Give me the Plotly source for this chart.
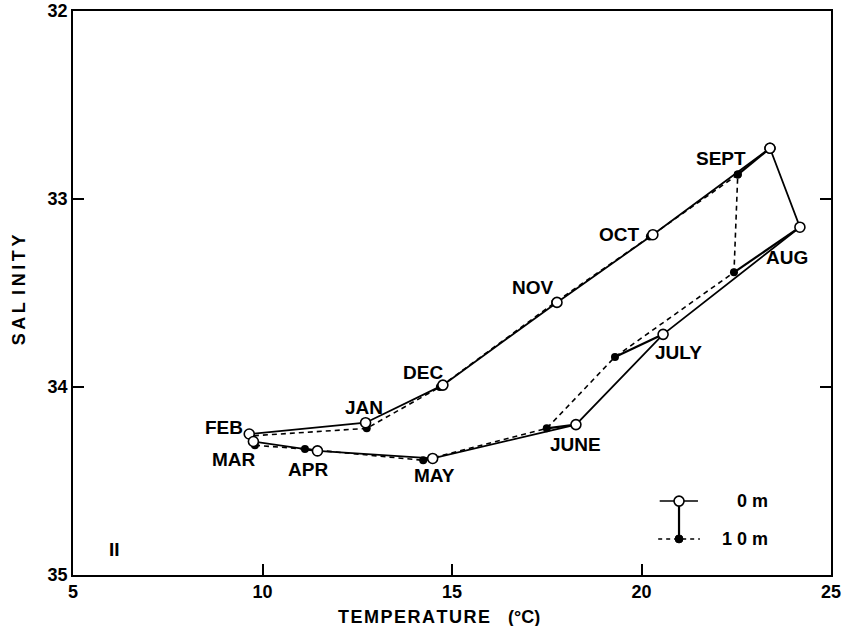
import plotly.graph_objects as go

# ---- data ----
months = ["SEPT", "OCT", "NOV", "DEC", "JAN", "FEB", "MAR", "APR", "MAY", "JUNE", "JULY", "AUG"]
temp_0m = [23.39, 20.30, 17.77, 14.76, 12.72, 9.65, 9.76, 11.45, 14.49, 18.27, 20.57, 24.18]
sal_0m = [32.73, 33.19, 33.55, 33.99, 34.19, 34.25, 34.29, 34.34, 34.38, 34.20, 33.72, 33.15]
temp_10m = [22.54, 20.22, 17.72, 14.68, 12.75, 9.70, 9.80, 11.12, 14.24, 17.50, 19.30, 22.44]
sal_10m = [32.87, 33.20, 33.55, 34.00, 34.22, 34.26, 34.31, 34.33, 34.39, 34.22, 33.84, 33.39]
x_ticks = [5, 10, 15, 20, 25]
y_ticks = [32, 33, 34, 35]

# label offsets in pixels relative to the 0 m point (layout only)
label_shift = {
    "SEPT": (-49, -10), "OCT": (-33, 0), "NOV": (-24, 15), "DEC": (-20, 13),
    "JAN": (-2, 15), "FEB": (-25, 7), "MAR": (-19, -18), "APR": (-9, -19),
    "MAY": (2, -17), "JUNE": (0, -20), "JULY": (15, -18), "AUG": (-13, -30),
}

FONT = "Liberation Sans"
LBL = dict(family=FONT, size=19, color="black", weight="bold")
TCK = dict(family=FONT, size=18, color="black", weight="bold")
fig = go.Figure()

# connectors between 0 m and 10 m of the same month
cx, cy = [], []
for a, b, c, d in zip(temp_0m, sal_0m, temp_10m, sal_10m):
    cx += [a, c, None]
    cy += [b, d, None]
fig.add_trace(go.Scatter(x=cx, y=cy, mode="lines",
                         line=dict(color="black", width=2.2), hoverinfo="skip"))

# 10 m closed loop (dashed)
fig.add_trace(go.Scatter(x=temp_10m + temp_10m[:1], y=sal_10m + sal_10m[:1],
                         mode="lines+markers",
                         line=dict(color="black", width=1.6, dash="5px,4px"),
                         marker=dict(symbol="circle", size=8, color="black"),
                         name="10 m"))

# 0 m closed loop (solid)
fig.add_trace(go.Scatter(x=temp_0m + temp_0m[:1], y=sal_0m + sal_0m[:1],
                         mode="lines+markers",
                         line=dict(color="black", width=1.8),
                         marker=dict(symbol="circle", size=10, color="white",
                                     line=dict(color="black", width=1.6)),
                         name="0 m"))

annotations = []
for m, t, s in zip(months, temp_0m, sal_0m):
    dx, dy = label_shift[m]
    annotations.append(dict(x=t, y=s, xref="x", yref="y", text=m, showarrow=False,
                            xshift=dx, yshift=dy, font=LBL))

annotations += [
    dict(x=0.055, y=0.046, xref="paper", yref="paper", text="II",
         xanchor="center", yanchor="middle", showarrow=False, font=LBL),
    dict(x=0.92, y=0.131, xref="paper", yref="paper", text="0 m",
         showarrow=False, xanchor="right", yanchor="middle", font=TCK),
    dict(x=0.92, y=0.064, xref="paper", yref="paper", text="1 0 m",
         showarrow=False, xanchor="right", yanchor="middle", font=TCK),
    # axis titles
    dict(x=0.483, y=-0.0745, xref="paper", yref="paper", xanchor="center", yanchor="middle",
         text="T\u200aE\u200aM\u200aP\u200aE\u200aR\u200aA\u200aT\u200aU\u200aR\u200aE\u2003(°C)",
         showarrow=False, font=TCK),
    dict(x=-0.071, y=0.505, xref="paper", yref="paper", xanchor="center", yanchor="middle",
         text="S\u2009A\u2009L\u2009\u2009I\u2009N\u2009I\u2009T\u2009Y", textangle=-90,
         showarrow=False, font=TCK),
]

LX, LY0, LY1 = 0.7995, 0.131, 0.064
shapes = [
    dict(type="line", xref="paper", yref="paper", x0=0.774, x1=0.8245, y0=LY0, y1=LY0,
         line=dict(color="black", width=1.5)),
    dict(type="line", xref="paper", yref="paper", x0=0.772, x1=0.827, y0=LY1, y1=LY1,
         line=dict(color="black", width=1.5, dash="4px,4px")),
    dict(type="line", xref="paper", yref="paper", x0=LX, x1=LX, y0=LY1, y1=LY0,
         line=dict(color="black", width=2.2)),
    dict(type="circle", xref="paper", yref="paper", xsizemode="pixel", ysizemode="pixel",
         xanchor=LX, yanchor=LY0, x0=-5, x1=5, y0=-5, y1=5,
         fillcolor="white", line=dict(color="black", width=1.6)),
    dict(type="circle", xref="paper", yref="paper", xsizemode="pixel", ysizemode="pixel",
         xanchor=LX, yanchor=LY1, x0=-4, x1=4, y0=-4, y1=4,
         fillcolor="black", line=dict(color="black", width=1)),
]

fig.update_layout(
    width=845, height=626,
    margin=dict(l=73, r=14, t=11, b=51),
    paper_bgcolor="white", plot_bgcolor="white",
    showlegend=False,
    annotations=annotations,
    shapes=shapes,
    font=TCK,
    xaxis=dict(range=[5, 25], tickvals=x_ticks, ticktext=[str(v) for v in x_ticks],
               automargin=False,
               showgrid=False, zeroline=False, showline=True, mirror=True,
               linecolor="black", linewidth=1.5, ticks="inside", ticklen=11,
               tickwidth=1.5, tickcolor="black", tickfont=TCK),
    yaxis=dict(range=[35, 32], tickvals=y_ticks, ticktext=[str(v) for v in y_ticks],
               automargin=False,
               showgrid=False, zeroline=False, showline=True, mirror="ticks",
               linecolor="black", linewidth=1.5, ticks="inside", ticklen=11,
               tickwidth=1.5, tickcolor="black", tickfont=TCK),
)

fig.write_html("out.html", config={"displayModeBar": False},
               post_script="document.body.style.margin='0';document.body.style.overflow='hidden';")
